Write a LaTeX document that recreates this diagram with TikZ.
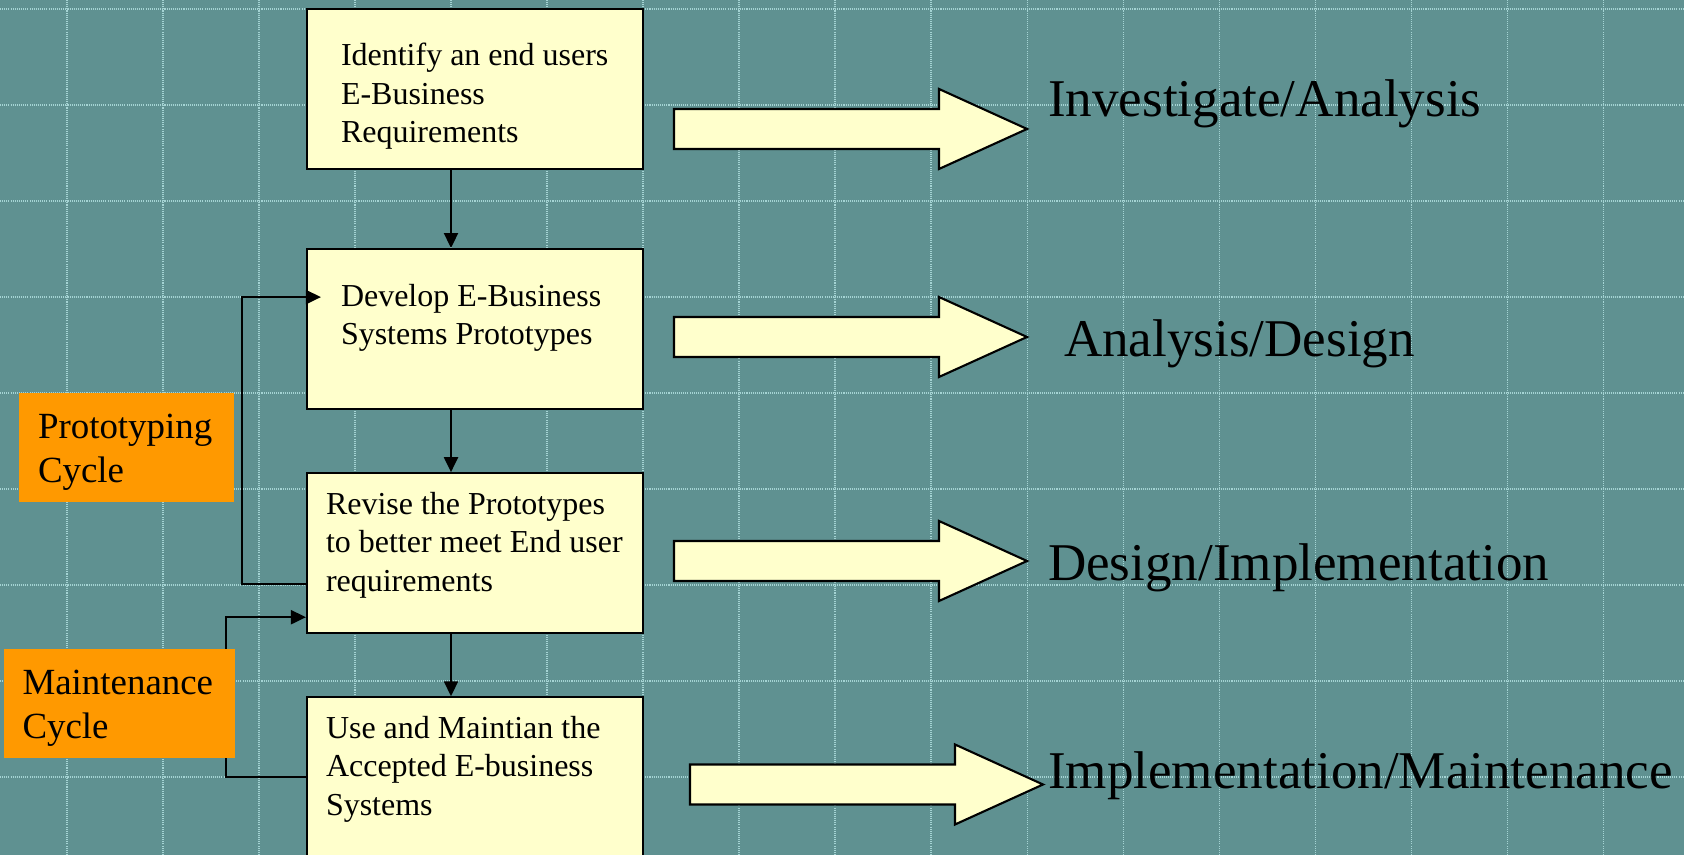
\documentclass[tikz,border=0pt]{standalone}
\usepackage{fontspec}
\setmainfont{Liberation Serif}
\usepackage{tikz}
\usetikzlibrary{arrows.meta,positioning}
\definecolor{bg_teal}{RGB}{95,145,145}
\definecolor{grid_line}{RGB}{165,212,212}
\definecolor{box_yell}{RGB}{255,255,204}
\definecolor{cycle_orange}{RGB}{255,153,0}
\newcommand\bigarrow[2]{\draw[bigarrow] (#1,#2) ++(0,0.2) -- ++(2.65,0) -- ++(0,0.2) -- ++(0.88,-0.4) -- ++(-0.88,-0.4) -- ++(0,0.2) -- ++(-2.65,0) -- cycle;}

\begin{document}
\begin{tikzpicture}[line width=0.6pt,>={Triangle[length=1.5mm,width=1.4mm]}]
    \tikzstyle{gridline}=[draw=grid_line,line width=0.3pt,dash pattern=on 0.3pt off 0.3pt]
    \tikzstyle{stage}=[draw, rectangle, fill=box_yell, text=black, align=flush left, inner ysep=0pt, font=\fontsize{9.1}{10.95}\selectfont]
    \tikzstyle{stagewide}=[style=stage, inner xsep=0.34cm, text width=2.68cm, text height=0.57cm, text depth=1.03cm]
    \tikzstyle{stagenarrow}=[style=stage, inner xsep=0.19cm, text width=2.98cm, text height=0.41cm, text depth=1.19cm]
    \tikzstyle{cyclebox}=[fill=cycle_orange, text=black, align=flush left, inner xsep=0.19cm, inner ysep=0pt, text height=0.46cm, text depth=0.63cm, font=\fontsize{10.5}{12.5}\selectfont]
    \tikzstyle{phase}=[anchor=base west, inner sep=0pt, text=black, font=\fontsize{15.1}{18}\selectfont]
    \tikzstyle{bigarrow}=[fill=box_yell, draw=black, line join=miter]

    \useasboundingbox (0,0) rectangle (16.84,8.55);
    \fill[bg_teal] (0,0) rectangle (16.84,8.55);
    \foreach \i in {0,...,16}
      \draw[gridline] (0.67+0.96*\i,0) -- (0.67+0.96*\i,8.55);
    \foreach \j in {0,...,8}
      \draw[gridline] (0,0.78+0.96*\j) -- (16.84,0.78+0.96*\j);

    \node[stagewide]                         (box1) at (4.75,7.66) {Identify an end~users\\E-Business\\Requirements};
    \node[stagewide, below=0.78cm of box1]   (box2) {Develop E-Business\\Systems Prototypes};
    \node[stagenarrow, below=0.62cm of box2] (box3) {Revise the Prototypes\\to better meet End~user\\requirements};
    \node[stagenarrow, below=0.62cm of box3] (box4) {Use and Maintian the\\Accepted E-business\\Systems};

    \draw[->] ([xshift=-0.24cm]box1.south) -- ([xshift=-0.24cm]box2.north);
    \draw[->] ([xshift=-0.24cm]box2.south) -- ([xshift=-0.24cm]box3.north);
    \draw[->] ([xshift=-0.24cm]box3.south) -- ([xshift=-0.24cm]box4.north);
    \draw[->] ([yshift=-0.31cm]box3.west) -- ++(-0.64,0) |- ([xshift=0.15cm,yshift=0.32cm]box2.west);
    \draw[->] (box4.west) -- ++(-0.8,0) |- ([yshift=-0.64cm]box3.west);

    \node[cyclebox, text width=1.77cm] (proto) at (1.265,4.075) {Prototyping\\Cycle};
    \node[cyclebox, text width=1.93cm] (maint) at (1.19,1.515) {Maintenance\\Cycle};

    \bigarrow{6.74}{7.26}
    \bigarrow{6.74}{5.18}
    \bigarrow{6.74}{2.94}
    \bigarrow{6.90}{0.705}

    \node[phase] (investigate) at (10.47,7.38) {Investigate/Analysis};
    \node[phase] (analysis)    at (10.63,4.98) {Analysis/Design};
    \node[phase] (design)      at (10.47,2.74) {Design/Implementation};
    \node[phase] (implement)   at (10.47,0.66) {Implementation/Maintenance};
\end{tikzpicture}
\end{document}
